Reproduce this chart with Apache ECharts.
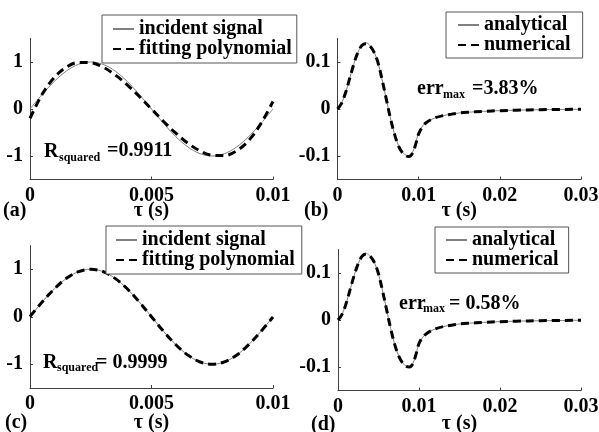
<!DOCTYPE html>
<html>
<head>
<meta charset="utf-8">
<script src="https://cdn.jsdelivr.net/npm/echarts@6/dist/echarts.min.js"></script>
<style>
html,body{margin:0;padding:0;background:#fff;}
#c{width:599px;height:432px;}
</style>
</head>
<body>
<div id="c"></div>
<script>
// ---- data ----
const tSig = [0, 0.0005, 0.001, 0.0015, 0.002, 0.0025, 0.003, 0.0035, 0.004, 0.0045, 0.005,
              0.0055, 0.006, 0.0065, 0.007, 0.0075, 0.008, 0.0085, 0.009, 0.0095, 0.01];
const sigA  = [0, 0.309, 0.588, 0.809, 0.951, 1, 0.951, 0.809, 0.588, 0.309, 0,
               -0.309, -0.588, -0.809, -0.951, -1, -0.951, -0.809, -0.588, -0.309, 0];
const polyA = [-0.2, 0.312, 0.671, 0.891, 0.99, 0.984, 0.892, 0.729, 0.515, 0.266, 0,
               -0.266, -0.515, -0.729, -0.892, -0.984, -0.99, -0.891, -0.671, -0.312, 0.16];
const sigC  = [0, 0.309, 0.588, 0.809, 0.951, 1, 0.951, 0.809, 0.588, 0.309, 0,
               -0.309, -0.588, -0.809, -0.951, -1, -0.951, -0.809, -0.588, -0.309, 0];
const polyC = [0.004, 0.31, 0.587, 0.81, 0.95, 0.999, 0.952, 0.808, 0.589, 0.309, 0,
               -0.309, -0.589, -0.808, -0.952, -0.999, -0.95, -0.81, -0.587, -0.31, -0.004];

const tResp = [0, 0.0005, 0.001, 0.0015, 0.002, 0.0025, 0.003, 0.0035, 0.004, 0.0045, 0.005,
               0.0055, 0.006, 0.0065, 0.007, 0.0075, 0.008, 0.0085, 0.0088, 0.0092, 0.0096, 0.01,
               0.0105, 0.011, 0.012, 0.013, 0.014, 0.015, 0.016, 0.018, 0.02, 0.022, 0.025, 0.03];
const respAnaB = [0, 0.012, 0.035, 0.065, 0.095, 0.12, 0.136, 0.141, 0.135, 0.122, 0.098,
                  0.062, 0.022, -0.018, -0.052, -0.077, -0.092, -0.099, -0.1, -0.094, -0.075, -0.05,
                  -0.036, -0.028, -0.019, -0.014, -0.011, -0.0085, -0.007, -0.005, -0.0035, -0.0025, -0.0015, -0.0005];
const respNumB = [0, 0.012, 0.035, 0.065, 0.095, 0.12, 0.135, 0.139, 0.134, 0.121, 0.098,
                  0.062, 0.022, -0.018, -0.052, -0.078, -0.093, -0.1, -0.101, -0.095, -0.077, -0.053,
                  -0.037, -0.028, -0.019, -0.014, -0.011, -0.0085, -0.007, -0.005, -0.0035, -0.0025, -0.0015, -0.0005];
const respAnaD = respAnaB.slice();
const respNumD = [0, 0.012, 0.035, 0.065, 0.095, 0.12, 0.136, 0.1405, 0.135, 0.122, 0.098,
                  0.062, 0.022, -0.018, -0.052, -0.077, -0.092, -0.099, -0.1, -0.094, -0.075, -0.05,
                  -0.036, -0.028, -0.019, -0.014, -0.011, -0.0085, -0.007, -0.005, -0.0035, -0.0025, -0.0015, -0.0005];

const xTicksSig = [0, 0.005, 0.01];
const xTicksResp = [0, 0.01, 0.02, 0.03];
const yTicksSig = [-1, 0, 1];
const yTicksResp = [-0.1, 0, 0.1];

const legSig = ['incident signal', 'fitting polynomial'];
const legResp = ['analytical', 'numerical'];
const panelLabels = ['(a)', '(b)', '(c)', '(d)'];

// ---- styling ----
const FONT = '"Liberation Serif", serif';
const txt = {color: '#000', fontFamily: FONT, fontWeight: 'bold', fontSize: 20};
const AX = '#404040';

const grids = [
  {left: 30, top: 38.5, width: 243, height: 141, outerBoundsMode: 'none'},
  {left: 337.5, top: 38.5, width: 243.5, height: 141, outerBoundsMode: 'none'},
  {left: 30, top: 245.5, width: 243, height: 142.5, outerBoundsMode: 'none'},
  {left: 338, top: 249.5, width: 243, height: 141, outerBoundsMode: 'none'}
];

function zip(xs, ys) { return xs.map((x, i) => [x, ys[i]]); }

function xAxis(i, max, interval, ticks, gap) {
  return {
    type: 'value', gridIndex: i, min: 0, max: max, interval: interval,
    name: 'τ (s)', nameLocation: 'middle', nameGap: gap, nameMoveOverlap: false,
    nameTextStyle: Object.assign({}, txt),
    axisLine: {show: true, onZero: false, lineStyle: {color: AX, width: 1}},
    axisTick: {show: true, inside: true, length: 3, lineStyle: {color: AX}, customValues: ticks},
    axisLabel: Object.assign({margin: 6, customValues: ticks,
      formatter: v => String(+v.toFixed(4))}, txt),
    splitLine: {show: false}
  };
}
function yAxis(i, lim, ticks) {
  return {
    type: 'value', gridIndex: i, min: -lim, max: lim,
    axisLine: {show: true, onZero: false, lineStyle: {color: AX, width: 1}},
    axisTick: {show: true, inside: true, length: 3, lineStyle: {color: AX}, customValues: ticks},
    axisLabel: Object.assign({margin: 7, customValues: ticks,
      formatter: v => String(+v.toFixed(4))}, txt),
    splitLine: {show: false}
  };
}
function solid(name, i, data) {
  return {type: 'line', name: name, xAxisIndex: i, yAxisIndex: i, data: data,
    showSymbol: false, symbol: 'none', smooth: 0.35, animation: false,
    lineStyle: {color: '#808080', width: 1}, itemStyle: {color: '#808080'}, z: 2};
}
function dashed(name, i, data) {
  return {type: 'line', name: name, xAxisIndex: i, yAxisIndex: i, data: data,
    showSymbol: false, symbol: 'none', smooth: 0.35, animation: false,
    lineStyle: {color: '#000', width: 3, type: [8, 5]}, itemStyle: {color: '#000'}, z: 3};
}
function legend(data, left, top, pad) {
  return {
    data: data, orient: 'vertical', left: left, top: top,
    padding: pad, itemGap: 0, itemWidth: 21, itemHeight: 10,
    backgroundColor: '#fff', borderColor: '#555', borderWidth: 1,
    selectedMode: false,
    itemStyle: {color: 'rgba(0,0,0,0)', borderWidth: 0, opacity: 0},
    textStyle: Object.assign({lineHeight: 19}, txt)
  };
}
function t(text, x, y, size) {
  return {type: 'text', x: x, y: y, style: {text: text, fill: '#000',
    font: 'bold ' + size + 'px "Liberation Serif", serif', textVerticalAlign: 'middle'}};
}

const option = {
  backgroundColor: '#fff',
  animation: false,
  grid: grids,
  xAxis: [xAxis(0, 0.01, 0.005, xTicksSig, 21), xAxis(1, 0.03, 0.01, xTicksResp, 21),
          xAxis(2, 0.01, 0.005, xTicksSig, 25), xAxis(3, 0.03, 0.01, xTicksResp, 23)],
  yAxis: [yAxis(0, 1.5, yTicksSig), yAxis(1, 0.15, yTicksResp), yAxis(2, 1.5, yTicksSig), yAxis(3, 0.15, yTicksResp)],
  legend: [
    legend(legSig, 102, 15, [4, 5, 4, 10]),
    legend(legResp, 446, 12, [3, 12, 3, 11]),
    legend(legSig, 106, 226, [4, 7, 4, 9]),
    legend(legResp, 435, 227, [3, 10, 3, 10])
  ],
  series: [
    solid('incident signal', 0, zip(tSig, sigA)),
    dashed('fitting polynomial', 0, zip(tSig, polyA)),
    solid('analytical', 1, zip(tResp, respAnaB)),
    dashed('numerical', 1, zip(tResp, respNumB)),
    solid('incident signal', 2, zip(tSig, sigC)),
    dashed('fitting polynomial', 2, zip(tSig, polyC)),
    solid('analytical', 3, zip(tResp, respAnaD)),
    dashed('numerical', 3, zip(tResp, respNumD))
  ],
  graphic: [
    t(panelLabels[0], 3, 211, 20),
    t(panelLabels[1], 304, 211, 20),
    t(panelLabels[2], 5, 423, 20),
    t(panelLabels[3], 311, 425, 20),
    t('R', 44, 152, 20), t('squared', 59, 158, 12), t('=0.9911', 107, 151, 20),
    t('R', 43, 363, 20), t('squared', 57, 368, 12), t('= 0.9999', 96, 363, 20),
    t('err', 417, 89, 20), t('max', 443, 95, 12), t('=3.83%', 472, 89, 20),
    t('err', 399, 304, 20), t('max', 423, 309, 12), t('= 0.58%', 449, 304, 20)
  ]
};

const chart = echarts.init(document.getElementById('c'), null, {renderer: 'canvas'});
chart.setOption(option);
</script>
</body>
</html>
